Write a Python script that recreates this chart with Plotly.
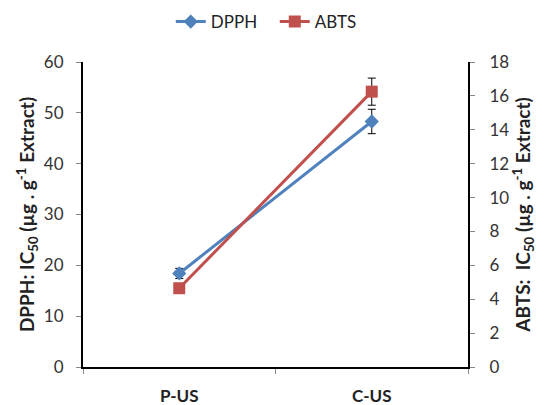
import plotly.graph_objects as go

categories = ["P-US", "C-US"]
dpph_ic50 = [18.4, 48.3]
dpph_err = [1.0, 2.4]
abts_ic50 = [4.65, 16.25]
abts_err = [0.25, 0.8]

FONT = "Lato, 'Open Sans', sans-serif"
BLUE = "#4F81BD"
RED = "#C0504D"

fig = go.Figure()
fig.add_trace(go.Scatter(
    x=categories, y=dpph_ic50, name="DPPH", mode="lines+markers",
    line=dict(color=BLUE, width=3),
    marker=dict(symbol="diamond", size=11, color=BLUE),
    error_y=dict(type="data", array=dpph_err, color="black", thickness=1, width=4),
    yaxis="y",
))
fig.add_trace(go.Scatter(
    x=categories, y=abts_ic50, name="ABTS", mode="lines+markers",
    line=dict(color=RED, width=3),
    marker=dict(symbol="square", size=12, color=RED),
    error_y=dict(type="data", array=abts_err, color="black", thickness=1, width=4),
    yaxis="y2",
))

axis_common = dict(
    showgrid=False, zeroline=False, showline=True, linecolor="black", linewidth=2,
    ticks="outside", ticklen=5, tickcolor="#888", tickwidth=1,
    tickfont=dict(family=FONT, size=17, color="#333"),
)

fig.update_layout(
    width=546, height=405,
    margin=dict(l=83, r=78, t=62, b=38, autoexpand=False),
    paper_bgcolor="white", plot_bgcolor="white",
    font=dict(family=FONT, color="#222"),
    showlegend=True,
    legend=dict(
        orientation="h", x=0.228, xanchor="left",
        yref="container", y=1 - 22 / 405, yanchor="middle",
        font=dict(family=FONT, size=17, color="#222"),
        itemwidth=30, entrywidth=59, entrywidthmode="pixels",
        traceorder="normal",
    ),
    xaxis=dict(
        **{**axis_common, "tickfont": dict(family=FONT, size=17, color="#222")},
        type="category", range=[-0.5, 1.5], tickson="boundaries",
        tickprefix="<b>", ticksuffix="</b>", ticklabelstandoff=13,
    ),
    yaxis=dict(
        **axis_common, range=[0, 60], dtick=10, ticklabelstandoff=9,
        title=dict(
            text="<b>DPPH: IC<sub>50</sub> (µg . g<sup>-1</sup> Extract)</b>",
            font=dict(family=FONT, size=19, color="#222"), standoff=4,
        ),
    ),
    yaxis2=dict(
        **axis_common, range=[0, 18], dtick=2, overlaying="y", side="right",
        ticklabelstandoff=11,
        title=dict(
            text="<b>ABTS:  IC<sub>50</sub> (µg . g<sup>-1</sup> Extract)</b>",
            font=dict(family=FONT, size=19, color="#222"), standoff=6,
        ),
    ),
)

fig.write_html("out.html")
